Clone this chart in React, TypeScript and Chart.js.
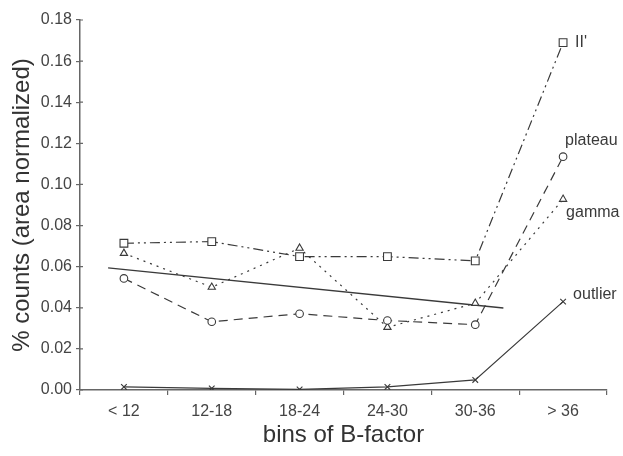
import React, { useEffect, useRef } from "react";
import { Chart, registerables } from "chart.js";

Chart.register(...registerables);

const categories = ["< 12", "12-18", "18-24", "24-30", "30-36", "> 36"];
const seriesNames = ["II'", "plateau", "gamma", "outlier"];
const iiPrime = [0.0714, 0.0722, 0.0649, 0.0649, 0.0628, 0.169];
const plateau = [0.0543, 0.0332, 0.0371, 0.0338, 0.0318, 0.1135];
const gamma = [0.0665, 0.0500, 0.0690, 0.0305, 0.0422, 0.0928];
const outlier = [0.0015, 0.0008, 0.0003, 0.0015, 0.0049, 0.0430];
const trendX = [-0.18, 4.32];
const trendY = [0.0594, 0.0399];
const yTicks = [0, 0.02, 0.04, 0.06, 0.08, 0.1, 0.12, 0.14, 0.16, 0.18];

const FONT = "'Liberation Sans', Arial, sans-serif";
const INK = "#3a3a3a";

const labelOffsets = [
  { dx: 12, dy: 0 },
  { dx: 2, dy: -16 },
  { dx: 3, dy: 13 },
  { dx: 10, dy: -7 },
];

const labelPlugin = {
  id: "seriesLabels",
  afterDraw(chart: any) {
    const ctx = chart.ctx;
    ctx.save();
    ctx.font = `16px ${FONT}`;
    ctx.fillStyle = INK;
    ctx.textAlign = "left";
    ctx.textBaseline = "middle";
    for (let i = 0; i < 4; i++) {
      const meta = chart.getDatasetMeta(i);
      const pt = meta.data[meta.data.length - 1];
      ctx.fillText(seriesNames[i], pt.x + labelOffsets[i].dx, pt.y + labelOffsets[i].dy);
    }
    // inner halves of y tick marks
    const y = chart.scales.y;
    ctx.strokeStyle = "#666";
    ctx.lineWidth = 1.2;
    ctx.beginPath();
    for (const v of yTicks) {
      const py = y.getPixelForValue(v);
      ctx.moveTo(y.right, py);
      ctx.lineTo(y.right + 3, py);
    }
    ctx.stroke();
    ctx.restore();
  },
};

export default function App() {
  const ref = useRef<HTMLCanvasElement | null>(null);
  useEffect(() => {
    if (!ref.current) return;
    const common = {
      borderColor: INK,
      backgroundColor: "#ffffff",
      pointBorderColor: INK,
      pointBackgroundColor: "#ffffff",
      borderWidth: 1.2,
      pointBorderWidth: 1.1,
      tension: 0,
      fill: false,
      xAxisID: "x",
    };
    const chart = new Chart(ref.current, {
      type: "line",
      data: {
        labels: categories,
        datasets: [
          { ...common, label: seriesNames[0], data: iiPrime, borderDash: [10, 4, 2, 4, 2, 4], pointStyle: "rect", pointRadius: 5.5 },
          { ...common, label: seriesNames[1], data: plateau, borderDash: [9, 6], pointStyle: "circle", pointRadius: 3.8 },
          { ...common, label: seriesNames[2], data: gamma, borderDash: [2, 5], pointStyle: "triangle", pointRadius: 4.2 },
          { ...common, label: seriesNames[3], data: outlier, pointStyle: "crossRot", pointRadius: 4 },
          {
            label: "trend",
            data: trendX.map((x, i) => ({ x, y: trendY[i] })),
            xAxisID: "xT",
            borderColor: INK,
            borderWidth: 1.4,
            pointRadius: 0,
            fill: false,
          } as any,
        ],
      },
      options: {
        animation: false,
        responsive: false,
        layout: { padding: { left: 0, right: 16, top: 20, bottom: 0 } },
        plugins: { legend: { display: false }, tooltip: { enabled: false } },
        scales: {
          x: {
            type: "category",
            offset: true,
            grid: { offset: true, drawOnChartArea: false, tickLength: 5, color: "#666", lineWidth: 1.2 },
            border: { color: "#666", width: 1.5 },
            ticks: { color: "#444", font: { size: 16, family: FONT }, padding: 7, maxRotation: 0 },
            title: { display: true, text: "bins of B-factor", color: "#333", font: { size: 24, family: FONT }, padding: { top: 4, bottom: 6 } },
            afterFit: (s: any) => { s.height = 66; },
          },
          xT: { type: "linear", min: -0.5, max: 5.5, display: false },
          y: {
            min: 0,
            max: 0.18,
            afterBuildTicks: (s: any) => { s.ticks = yTicks.map((v) => ({ value: v })); },
            grid: { drawOnChartArea: false, tickLength: 4, color: "#666", lineWidth: 1.2 },
            border: { color: "#666", width: 1.5 },
            ticks: { color: "#444", font: { size: 16, family: FONT }, padding: 4, callback: (v: any) => Number(v).toFixed(2) },
            title: { display: true, text: "% counts (area normalized)", color: "#333", font: { size: 24, family: FONT }, padding: { top: 8, bottom: 0 } },
            afterFit: (s: any) => { s.width = 80; },
          },
        },
      } as any,
      plugins: [labelPlugin],
    });
    return () => chart.destroy();
  }, []);
  return (
    <div style={{ position: "fixed", left: 0, top: 0, width: 623, height: 456, background: "#fff" }}>
      <canvas ref={ref} width={623} height={456} />
    </div>
  );
}
